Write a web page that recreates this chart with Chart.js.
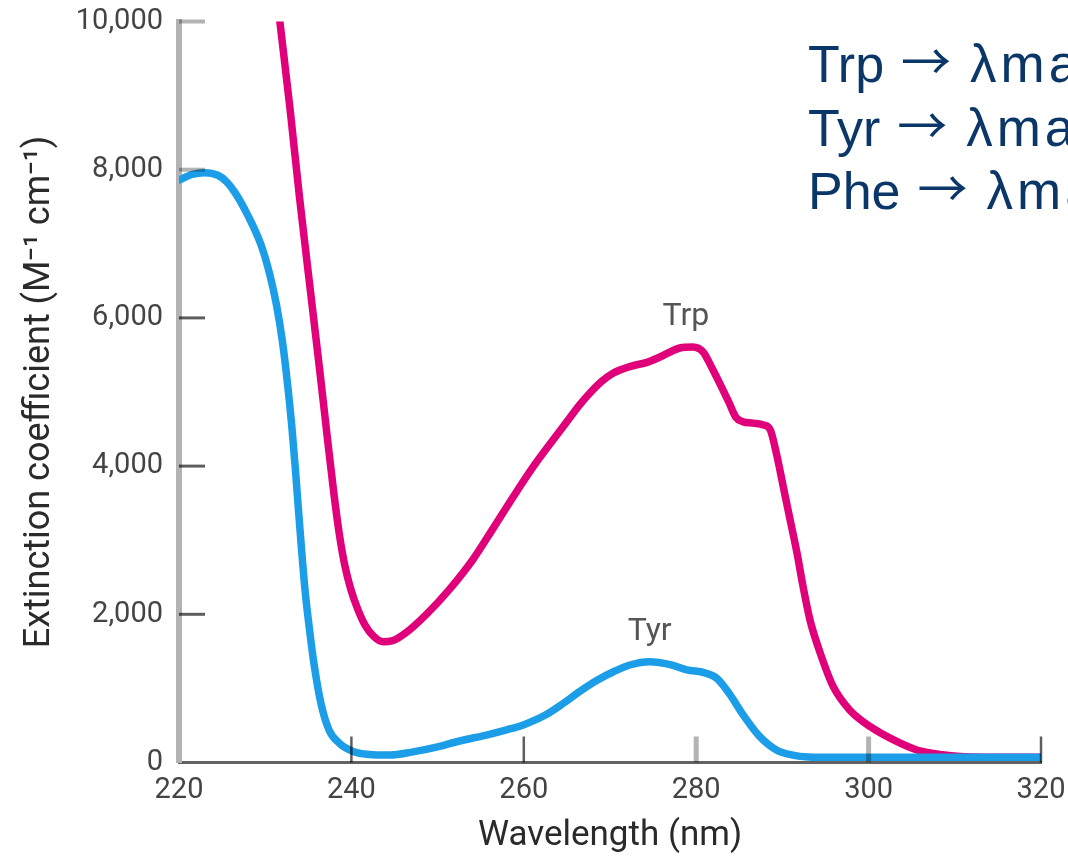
<!DOCTYPE html>
<html>
<head>
<meta charset="utf-8">
<title>Absorbance of Trp and Tyr</title>
<script src="https://cdn.jsdelivr.net/npm/chart.js@4.4.1/dist/chart.umd.min.js"></script>
<style>
  html, body { margin: 0; padding: 0; background: #fff; }
  #wrap { width: 1068px; height: 857px; position: relative; overflow: hidden; }
</style>
</head>
<body>
<div id="wrap"><canvas id="grafico" width="1068" height="857"></canvas></div>
<script>
// ---- data (nm, M^-1 cm^-1) ----
const trpNm  = [231.4, 231.7, 232.9, 234.0, 235.2, 236.4, 237.3, 238.0, 238.6, 239.2, 239.9, 240.7, 241.6, 242.6, 243.7, 244.7, 246.2, 248.7, 251.4, 254.1, 256.5, 258.8, 261.1, 263.1, 265, 266.5, 267.7, 269, 270.3, 272.5, 274.3, 275.8, 278.1, 279.6, 280.8, 281.8, 282.8, 283.8, 284.6, 285.4, 286.6, 287.8, 288.6, 289.3, 290.1, 290.9, 291.7, 292.4, 293.2, 294.4, 295.9, 297.8, 300.2, 302.9, 305.6, 308.3, 312, 320];
const trpVal = [10300, 10000, 8800, 7605, 6410, 5216, 4290, 3600, 3080, 2680, 2350, 2080, 1850, 1700, 1630, 1640, 1740, 2000, 2340, 2740, 3170, 3590, 3992, 4308, 4600, 4830, 4990, 5140, 5250, 5350, 5400, 5472, 5594, 5607, 5540, 5330, 5100, 4860, 4660, 4600, 4580, 4555, 4487, 4173, 3722, 3273, 2823, 2373, 1923, 1473, 1023, 709, 483, 304, 169, 110, 75, 70];

const tyrNm  = [220, 221.5, 223, 224.5, 225.5, 226.5, 228, 229.5, 230.5, 231.3, 232, 232.6, 233.1, 233.5, 233.85, 234.2, 234.6, 235.1, 235.7, 236.5, 237.4, 238.6, 240.2, 242.5, 244.5, 247, 250, 252.2, 256, 258, 260, 262.5, 264.6, 266.5, 268.5, 270.4, 272.3, 274.6, 277, 278.9, 281, 282.4, 283.9, 285.4, 287.3, 289.3, 291.2, 293, 296, 300, 310, 320];
const tyrVal = [7860, 7935, 7960, 7925, 7840, 7690, 7380, 6990, 6600, 6180, 5680, 5100, 4520, 3960, 3420, 2900, 2350, 1830, 1300, 780, 440, 260, 150, 105, 100, 140, 210, 280, 380, 440, 510, 640, 800, 960, 1110, 1225, 1316, 1360, 1320, 1250, 1210, 1136, 920, 650, 360, 170, 100, 75, 70, 70, 70, 70];

const xTicks = [220, 240, 260, 280, 300, 320];
const yTicks = [0, 2000, 4000, 6000, 8000, 10000];

const labelTrp = { nm: 278.8, val: 6010, text: "Trp" };
const labelTyr = { nm: 274.6, val: 1760, text: "Tyr" };
const notasNome = ["Trp", "Tyr", "Phe"];
const notasResto = "\u03bbmax";

// ticks drawn in light grey (the rest are dark)
const tickClaroX = [280, 300];
const tickClaroY = [8000, 10000];

const pontos = (xs, ys) => xs.map((x, i) => ({ x: x, y: ys[i] }));

// ======== TICKS INTERNOS + ANOTACOES ========
const marcas = {
    id: "marcas",
    afterDatasetsDraw(chart) {
        const { ctx, scales: { x, y }, chartArea } = chart;
        ctx.save();
        ctx.globalCompositeOperation = "multiply";
        x.ticks.forEach(t => {
            if (t.value === 220) return;
            const px = x.getPixelForValue(t.value);
            const claro = tickClaroX.includes(t.value);
            ctx.strokeStyle = claro ? "#b3b3b3" : "#5e5e5e";
            ctx.lineWidth = claro ? 5 : 2.5;
            ctx.beginPath();
            ctx.moveTo(px, chartArea.bottom);
            ctx.lineTo(px, chartArea.bottom - 26);
            ctx.stroke();
        });
        y.ticks.forEach(t => {
            if (t.value === 0) return;
            const py = y.getPixelForValue(t.value);
            const claro = tickClaroY.includes(t.value);
            ctx.strokeStyle = claro ? "#b3b3b3" : "#5e5e5e";
            ctx.lineWidth = claro ? 4 : 3;
            ctx.beginPath();
            ctx.moveTo(chartArea.left, py);
            ctx.lineTo(chartArea.left + 26, py);
            ctx.stroke();
        });
        ctx.restore();
    },
    afterDraw(chart) {
        const { ctx, scales: { x, y } } = chart;
        ctx.save();
        ctx.font = "32px Roboto";
        ctx.fillStyle = "#555";
        ctx.textAlign = "center";
        ctx.textBaseline = "middle";
        [labelTrp, labelTyr].forEach(l => {
            ctx.fillText(l.text, x.getPixelForValue(l.nm), y.getPixelForValue(l.val));
        });

        // caixa de texto (cortada na borda direita)
        ctx.fillStyle = "#0b3768";
        ctx.textAlign = "left";
        ctx.textBaseline = "alphabetic";
        notasNome.forEach((nome, i) => {
            const base = 82 + i * 63.5;
            let px = 808;
            ctx.font = "52px 'Liberation Sans', Arial, sans-serif";
            ctx.fillText(nome, px, base);
            px += ctx.measureText(nome).width + 17;
            ctx.font = "50px 'Noto Sans CJK SC'";
            ctx.fillText("\u2192", px, base - 2);
            px += ctx.measureText("\u2192").width + 19;
            ctx.font = "53px 'Liberation Sans', Arial, sans-serif";
            ctx.letterSpacing = "4px";
            ctx.fillText(notasResto, px, base);
            ctx.letterSpacing = "0px";
        });
        ctx.restore();
    }
};

const ctx = document.getElementById("grafico").getContext("2d");
new Chart(ctx, {
    type: "line",
    data: {
        datasets: [
            {
                label: "Tyr",
                data: pontos(tyrNm, tyrVal),
                borderColor: "#1c9de8",
                borderWidth: 7.5,
                pointRadius: 0,
                cubicInterpolationMode: "monotone",
                borderCapStyle: "round",
                borderJoinStyle: "round"
            },
            {
                label: "Trp",
                data: pontos(trpNm, trpVal),
                borderColor: "#e0007a",
                borderWidth: 7.5,
                pointRadius: 0,
                cubicInterpolationMode: "monotone",
                borderCapStyle: "round",
                borderJoinStyle: "round"
            }
        ]
    },
    options: {
        responsive: false,
        animation: false,
        locale: "en-US",
        layout: { padding: { left: 0, top: 21.5, right: 27, bottom: 0 } },
        plugins: {
            legend: { display: false },
            tooltip: { enabled: false }
        },
        scales: {
            x: {
                type: "linear",
                min: 220,
                max: 320,
                afterBuildTicks: s => { s.ticks = xTicks.map(v => ({ value: v })); },
                afterFit: s => { s.height = 94.5; s.paddingLeft = 0; s.paddingRight = 0; },
                grid: { drawOnChartArea: false, drawTicks: false },
                border: { color: "#626262", width: 3 },
                ticks: {
                    color: "#444",
                    padding: 11,
                    maxRotation: 0,
                    font: { family: "Roboto", size: 29 },
                    callback: v => String(v)
                },
                title: {
                    display: true,
                    text: "Wavelength (nm)",
                    color: "#2a2a2a",
                    font: { family: "Roboto", size: 35 },
                    padding: { top: 0, bottom: 0 }
                }
            },
            y: {
                type: "linear",
                min: 0,
                max: 10000,
                afterBuildTicks: s => { s.ticks = yTicks.map(v => ({ value: v })); },
                afterFit: s => { s.width = 179; s.paddingTop = 0; s.paddingBottom = 0; },
                grid: { drawOnChartArea: false, drawTicks: false },
                border: { color: "#b3b3b3", width: 6 },
                ticks: {
                    color: "#444",
                    padding: 16,
                    font: { family: "Roboto", size: 29 },
                    callback: v => v.toLocaleString("en-US")
                },
                title: {
                    display: true,
                    text: "Extinction coefficient (M\u207b\u00b9 cm\u207b\u00b9)",
                    color: "#2a2a2a",
                    font: { family: "Roboto", size: 36 },
                    padding: { top: 18, bottom: 0 }
                }
            }
        }
    },
    plugins: [marcas]
});
</script>
</body>
</html>
